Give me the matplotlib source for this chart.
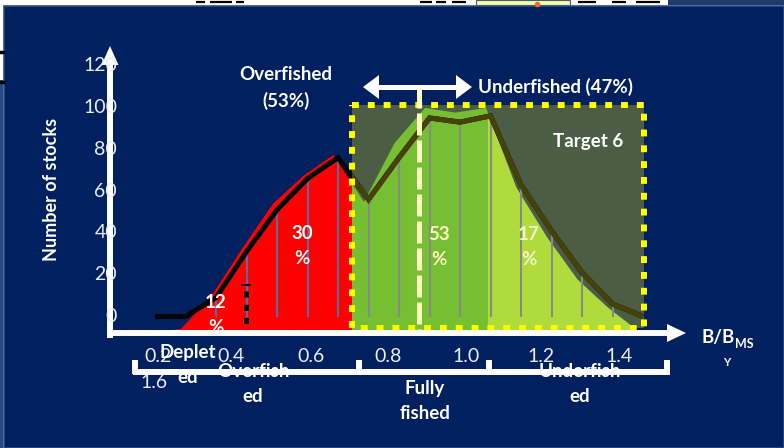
import matplotlib
matplotlib.use("Agg")
import matplotlib.pyplot as plt
from matplotlib.patches import Rectangle, Polygon
from matplotlib.transforms import blended_transform_factory

# ---- data -------------------------------------------------------------
bins = list(range(17))  # B/BMSY classes (0.0 ... 1.6 in steps of 0.1)
stocks_line = [0, 0, 9, 31, 51, 66, 76, 56, 76, 95, 93, 96, 63, 41, 21, 6, 0]
stocks_area = [0, 2, 16, 36, 55, 67, 76, 56, 81, 96, 94, 96, 62, 41, 23, 11, 1]
y_ticks = [0, 20, 40, 60, 80, 100, 120]
x_tick_labels = ["0.2", "0.4", "0.6", "0.8", "1.0", "1.2", "1.4"]
x_tick_pos = [0.1, 2.5, 5.1, 7.65, 10.2, 12.65, 15.2]
status_labels = ["Deplet\ned", "Overfish\ned", "Fully\nfished", "Underfish\ned"]
share_labels = ["12\n%", "30\n%", "53\n%", "17\n%"]

# ---- figure / layers ---------------------------------------------------
W, H = 784, 448
NAVY = "#002060"
FONT = "Lato"

fig = plt.figure(figsize=(W / 100, H / 100), dpi=100)


def pixel_axes(z):
    a = fig.add_axes([0, 0, 1, 1])
    a.set_xlim(0, W)
    a.set_ylim(H, 0)
    a.axis("off")
    a.set_zorder(z)
    return a


bg = pixel_axes(0)
fg = pixel_axes(4)

# area chart layer
A_X0, A_DX, A_BASE, A_K = 150, 30.5, 333, 2.35
ax_area = fig.add_axes([0, 0, 1, 1])
ax_area.set_xlim(-A_X0 / A_DX, (W - A_X0) / A_DX)
ax_area.set_ylim((A_BASE - H) / A_K, A_BASE / A_K)
ax_area.axis("off")
ax_area.set_zorder(1)

# line chart layer
L_X0, L_DX, L_BASE, L_K = 155, 30.5, 316.5, 2.09
ax_line = fig.add_axes([0, 0, 1, 1])
ax_line.set_xlim(-L_X0 / L_DX, (W - L_X0) / L_DX)
ax_line.set_ylim((L_BASE - H) / L_K, L_BASE / L_K)
ax_line.axis("off")
ax_line.set_zorder(2)

# ---- slide background ----------------------------------------------------
fig.patch.set_facecolor("white")
bg.add_patch(Rectangle((4, 6), W - 4, H - 6, facecolor=NAVY,
                       edgecolor="#2E4C8C", lw=1.2))
bg.add_patch(Rectangle((0, 80), 3.5, H - 80, facecolor="#2A4A86", lw=0))
bg.add_patch(Rectangle((668, 0), W - 668, 5.5, facecolor="#22396B", lw=0))
bg.add_patch(Rectangle((476, 0), 94, 5, facecolor="#FFFF99",
                       edgecolor="#3A5A9A", lw=0.8))
bg.plot([537], [4], "o", color="#F07020", ms=3)
for x0, x1 in [(196, 205), (210, 232), (236, 244), (420, 432), (436, 446),
               (452, 466), (578, 596), (612, 626), (636, 660)]:
    bg.plot([x0, x1], [2.5, 2.5], color="black", lw=1.6, solid_capstyle="butt")
bg.plot([0, 3], [52, 52], color="black", lw=2.5)
bg.plot([0, 3], [82, 82], color="black", lw=2.5)

# target box shading
OV_X, OV_Y, OV_W, OV_H = 352, 105, 292, 223
bg.add_patch(Rectangle((OV_X, OV_Y), OV_W, OV_H, facecolor="#4B5E45", lw=0))

# ---- area chart split into status colours --------------------------------
for (x0, x1), col in [((0, 352), "#FF0000"), ((352, 488), "#76BE32"),
                      ((488, W), "#AFDC3C")]:
    poly = ax_area.fill_between(bins, 0, stocks_area, color=col, lw=0)
    poly.set_clip_path(Rectangle((x0, 0), x1 - x0, H, transform=bg.transData))

# ---- line chart with drop lines -----------------------------------------
drop_cols = ["#586C9E" if i <= 6 else "#838D83" for i in bins]
ax_line.vlines(bins, 0, stocks_line, colors=drop_cols, lw=1.5)
ax_line.plot(bins, stocks_line, color="black", lw=3.6,
             solid_joinstyle="miter", solid_capstyle="butt")
inner = ax_line.plot(bins, stocks_line, color="#46430A", lw=3.6,
                     solid_joinstyle="miter", solid_capstyle="butt")[0]
inner.set_clip_path(Rectangle((OV_X, OV_Y), OV_W, OV_H, transform=bg.transData))

# ---- foreground decorations ----------------------------------------------
# dotted target frame
frame = Rectangle((OV_X, OV_Y), OV_W, OV_H, facecolor="none",
                  edgecolor="#FFFF00", lw=4.3, linestyle=(0, (1.15, 1.5)))
frame.set_capstyle("butt")
fg.add_patch(frame)

# reference markers
fg.plot([246, 246], [291, 333], color="black", lw=3.6,
        linestyle=(0, (1.2, 1.45)), solid_capstyle="butt")
fg.plot([242, 250], [285.5, 285.5], color="black", lw=1.2)
fg.plot([419.5, 419.5], [86, 330], color="#FFFFC4", lw=3.6,
        linestyle=(0, (4.4, 1.0)))

# axes arrows
fg.plot([110, 110], [338, 60], color="white", lw=4.3, solid_capstyle="butt")
fg.add_patch(Polygon([(110, 46), (101.5, 65), (118.5, 65)], closed=True,
                     facecolor="white", lw=0))
fg.plot([112, 669], [333, 333], color="white", lw=4.3, solid_capstyle="butt")
fg.add_patch(Polygon([(686, 333), (667, 324), (667, 342)], closed=True,
                     facecolor="white", lw=0))

# double arrow over the MSY line
fg.plot([375, 460], [87, 87], color="white", lw=3.6, solid_capstyle="butt")
fg.add_patch(Polygon([(363, 87), (379, 75), (379, 99)], closed=True,
                     facecolor="white", lw=0))
fg.add_patch(Polygon([(472, 87), (456, 75), (456, 99)], closed=True,
                     facecolor="white", lw=0))

# status brackets
fg.plot([133, 670], [372, 372], color="white", lw=4.3, solid_capstyle="butt")
for bx in [135.5, 359, 489, 667.5]:
    fg.plot([bx, bx], [360, 374], color="white", lw=4.3, solid_capstyle="butt")

# ---- text -----------------------------------------------------------------
tick_kw = dict(color="#EEEEF2", fontsize=14, family=FONT)
ytr = blended_transform_factory(fg.transData, ax_line.transData)
for v in y_ticks:
    fg.text(117, v, str(v), transform=ytr, ha="right", va="center", **tick_kw)
xtr = blended_transform_factory(ax_line.transData, fg.transData)
for p, lab in zip(x_tick_pos, x_tick_labels):
    fg.text(p, 356, lab, transform=xtr, ha="center", va="center", **tick_kw)
fg.text(154, 382, "1.6", ha="center", va="center", **tick_kw)

bold = dict(color="white", fontsize=13.5, family=FONT, fontweight="bold",
            ha="center", va="center", linespacing=1.55)
fg.text(52, 189, "Number of stocks", rotation=90, **{**bold, "fontsize": 13})
fg.text(286, 88, "Overfished\n(53%)", **bold)
fg.text(478, 87, "Underfished (47%)", **{**bold, "ha": "left"})
fg.text(588, 142, "Target 6", **bold)

for (x, y), lab in zip([(188, 365), (253, 384), (425, 401), (580, 384)],
                       status_labels):
    fg.text(x, y, lab, **bold)

for (x, y), lab, col in zip([(216, 315), (302, 246), (439, 247), (529, 247)],
                            share_labels,
                            ["white", "white", "#FFFFBE", "#F4F4C6"]):
    fg.text(x, y, lab, **{**bold, "color": col})

fg.text(702, 338, "B/B", **{**bold, "ha": "left"})
fg.text(735, 344, "MS", **{**bold, "ha": "left", "fontsize": 9})
fg.text(727, 363, "Y", **{**bold, "fontsize": 8})

fig.savefig("out.png", dpi=100, facecolor=fig.get_facecolor())
